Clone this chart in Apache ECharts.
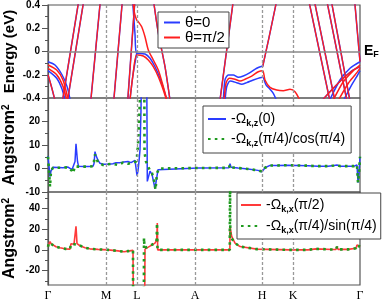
<!DOCTYPE html>
<html><head><meta charset="utf-8">
<script src="https://cdn.jsdelivr.net/npm/echarts@6/dist/echarts.min.js"></script>
<style>html,body{margin:0;padding:0;background:#fff}#c{width:388px;height:301px}</style>
</head><body><div id="c"></div>
<script>
// ---- k-path (distance units along the path) ----
const kTicks = [0, 58, 89, 147, 214, 245, 312];
const kLabels = ['Γ', 'M', 'L', 'A', 'H', 'K', 'Γ'];
const kDashed = [58, 89, 147, 214, 245];

// ---- axis ticks ----
const eMajor = [-0.4, -0.2, 0, 0.2, 0.4];
const eMinor = [-0.3, -0.1, 0.1, 0.3];
const zMajor = [-10, 0, 10, 20, 30];
const zLabels = [-10, 0, 10, 20];
const zMinor = [-5, 5, 15, 25];
const xMajor = [-20, 0, 20, 40];
const xMinor = [-30, -10, 10, 30, 50];

// ---- band structure: [k, E(eV)] ----
// bands common to both θ
const bDeep = [[0,-0.2],[4,-0.32],[7.5,-0.44]];
const bS1 = [[14,-0.45],[31,0.45]];
const bS2 = [[19,-0.45],[36,0.45]];
const bS3 = [[42.5,-0.45],[52.5,0.45]];
const bS4 = [[65.5,-0.45],[74.5,0.45]];
const bS5 = [[79.5,-0.45],[87,0.45]];
const bS6 = [[105.3,0.45],[110.3,0.16],[117,-0.13],[122.5,-0.45]];
const bA = [[171.5,-0.45],[185.5,0.45]];
const bH = [[214.7,-0.13],[221,0.12],[229,0.45]];
const bR1 = [[260.5,0.45],[282.5,-0.45]];
const bR2 = [[266,0.45],[287.5,-0.45]];
const bR3 = [[278.5,0.45],[299.5,-0.45]];
const bR4 = [[283,0.45],[302.5,-0.45]];
const bR5 = [[306.5,0.45],[312,-0.088]];
const bK = [[273,-0.43],[285.3,-0.316],[295.3,-0.23],[305.3,-0.159],[312,-0.131]];
// θ = 0 only
const blG1 = [[0,-0.088],[7,-0.116],[14,-0.2],[19,-0.3],[22.5,-0.43]];
const blG2 = [[0,-0.165],[8.7,-0.23],[13.7,-0.317],[17.5,-0.43]];
const blL1 = [[84.5,0.45],[87,0.15],[88.7,-0.015],[97,-0.021],[102,-0.058],[107,-0.131],[112,-0.23],[117,-0.36],[119,-0.43]];
const blL2 = [[81.5,-0.45],[85,-0.2],[88.7,-0.015]];
const blW1 = [[175.3,-0.43],[177,-0.245],[180.3,-0.202],[185.3,-0.202],[190.3,-0.222],[195.3,-0.211],[202,-0.182],[208.7,-0.144],[214.7,-0.125]];
const blW2 = [[177,-0.43],[178.7,-0.303],[182,-0.254],[188.7,-0.268],[193.7,-0.282],[198.7,-0.268],[205.3,-0.245],[212,-0.225],[214.7,-0.222],[218,-0.288],[222,-0.325],[225.3,-0.36],[229,-0.43]];
const blK1 = [[281,-0.43],[292,-0.245],[302,-0.144],[312,-0.088]];
const blK2 = [[295,-0.43],[303.7,-0.288],[308.7,-0.217],[312,-0.165]];
// θ = π/2 only
const rdG1 = [[0,-0.116],[8.7,-0.159],[15,-0.245],[20.5,-0.43]];
const rdG2 = [[0,-0.145],[8.7,-0.2],[15,-0.3],[19,-0.43]];
const rdL1 = [[84.5,0.45],[86.5,0.33],[88.7,0.27],[90.3,0.256],[93.7,0.213],[97,0.127],[100.3,0.013],[105.3,-0.073],[110.3,-0.159],[115.3,-0.303],[119.3,-0.43]];
const rdL2 = [[81.5,-0.45],[85,-0.2],[88.7,-0.03],[95.3,-0.039],[100.3,-0.073],[105.3,-0.131],[110.3,-0.217],[115.3,-0.331],[119,-0.43]];
const rdW = [[176,-0.43],[178,-0.273],[181.3,-0.23],[187,-0.239],[192,-0.254],[197,-0.239],[203.7,-0.211],[210.3,-0.174],[214.7,-0.165],[217,-0.245],[222,-0.308],[228.7,-0.331],[235.3,-0.337],[242,-0.325],[247,-0.346],[252.5,-0.43]];
const rdK1 = [[284.5,-0.43],[295.3,-0.26],[305.3,-0.165],[312,-0.116]];
const rdK2 = [[289.7,-0.43],[300.3,-0.273],[307,-0.202],[312,-0.145]];

// ---- Berry curvature, z component: [k, value] ----
const omegaZ0 = [[0,5.3],[1,1],[2,-3.5],[3,-1],[5,0.5],[10,0.4],[15,0.3],[20,0.6],[22,1],[24,-0.5],[25.5,-1],[27,3],[28,10.5],[29.5,3],[30.5,1],[35,0.8],[40,0.9],[45,1],[46,2],[47,7.2],[48,5.5],[50,3.5],[52,2.2],[55,1.8],[60,1.8],[65,2],[68,2.5],[70,3],[72,2.5],[76,2.8],[80,3],[83,2.5],[85,2.6],[87,3.5],[88,4],[89,-3],[90,-1],[91,3],[92,8],[93,25],[94,60],[98.5,60],[99.3,-5.5],[102,-1.1],[104,-2.5],[107,-8.6],[110,-0.5],[112,0],[150,0.2],[181,0.3],[182,2],[183,0.5],[190,0.2],[200,-0.2],[210,-0.8],[214,-1.4],[217,0.3],[222,1.3],[230,1.3],[240,1.4],[250,1.3],[260,1.2],[270,1],[280,1],[286,1.3],[289,1.5],[292,1],[300,1],[306,1],[308,1.5],[309,1.5],[310,-6],[311,-2],[312,5]];
const omegaZPi4 = [[0,5],[1,-1],[2,-7.8],[3,-1],[5,0.3],[10,0.3],[20,0.5],[24,-1],[25,-2],[27,1],[28,1],[30,0.8],[40,0.8],[45,1],[46,3],[47,6],[50,2.5],[55,1.5],[60,1.8],[65,2],[70,1.5],[75,2.5],[80,2],[85,2.5],[88,3],[89,5],[90,10],[92,30],[94,60],[96.2,60],[96.5,7],[98,3],[100,1],[102,-1],[104,-2],[106,-5],[107.5,-9],[109,-2],[111,0],[150,0.2],[181,0.3],[182,1.5],[183,0.5],[190,0.2],[200,-0.2],[210,-0.8],[214,-1.3],[217,0.3],[222,1.3],[230,1.3],[240,1.4],[250,1.3],[260,1.2],[270,1],[280,1],[286,1.3],[289,1.5],[292,1],[300,1],[306,1],[308,1.5],[309,1.5],[310,-6],[311,-2],[312,5]];

// ---- Berry curvature, x component ----
const omegaXPi2 = [[0,3],[1,6],[2,8],[3,6],[5,4.5],[8,3],[12,2],[17,1],[22,0.7],[23,6],[26,5.5],[27.5,5],[28,22.7],[29,6],[30,5],[32,4],[37,2],[42,1],[50,0.5],[60,0],[70,-1],[76,-1.8],[80,-1.2],[85,-0.5],[85.5,-80],[96.5,-80],[97,0.7],[100.3,2.6],[107,6.5],[108.7,9.7],[109.3,26],[109.7,0],[115,0],[181.9,0],[182,22.7],[183.7,13],[187,6.5],[192,3.2],[208.7,0.7],[242,0],[260,0],[268,1],[270,0],[285,0.3],[288,0.5],[289,3.2],[290,0.5],[300,0.5],[308,1.5],[309,4.8],[310,3],[312,3]];
const omegaXPi4 = [[0,3],[1,7],[2,8],[3,6],[5,4.5],[8,3],[12,2],[17,1],[22,0.7],[23,5.5],[26,5.5],[28,5],[30,5],[32,4],[37,2],[42,1],[50,0.5],[60,0],[70,-1],[76,-1.8],[80,-1.2],[85,-0.5],[85.2,-80],[95.8,-80],[96,11.6],[96.5,2],[100,3],[107,6.5],[108.7,10],[109,26],[109.5,0],[115,0],[181.8,0],[182,90],[182.3,13],[183.7,12],[187,6.5],[192,3.2],[208.7,0.7],[242,0],[260,0],[268,1],[270,0],[285,0.3],[288,0.5],[289,3],[290,0.5],[300,0.5],[308,1.5],[309,4.5],[310,3],[312,3]];

const bandsBoth = [bDeep,bS1,bS2,bS3,bS4,bS5,bS6,bA,bH,bR1,bR2,bR3,bR4,bR5,bK];
const bandsBlue = [blG1,blG2,blL1,blL2,blW1,blW2,blK1,blK2];
const bandsRed = [rdG1,rdG2,rdL1,rdL2,rdW,rdK1,rdK2];

// ---- styles ----
const SANS = 'Liberation Sans';
const BLUE = '#2a3cff', RED = '#ff1e1e', GREEN = '#1f9a1f', FRAME = '#555';
const names = {
  theta0: 'θ=0', thetaPi2: 'θ=π/2',
  oz0: '-Ω{s|k,z}(0)', ozPi4: '-Ω{s|k,z}(π/4)/cos(π/4)',
  ox: '-Ω{s|k,x}(π/2)', oxPi4: '-Ω{s|k,x}(π/4)/sin(π/4)'
};
const richSub = { s: { fontSize: 9, fontWeight: 'bold', fontFamily: SANS, verticalAlign: 'bottom', lineHeight: 8 } };

const gridTop = [5, 98, 192];
const gridH = [93, 94, 93];
const grid = gridTop.map((t, i) => ({ left: 48, width: 312, top: t, height: gridH[i], outerBoundsMode: 'none', containLabel: false, show: true, borderColor: FRAME, borderWidth: 1.2, backgroundColor: 'rgba(0,0,0,0)' }));

const xAxis = [0, 1, 2].map(i => ({
  type: 'value', gridIndex: i, min: 0, max: 312,
  axisLine: { show: false }, axisTick: { show: false }, splitLine: { show: false },
  axisLabel: i === 2 ? {
    show: true, customValues: kTicks, margin: 5,
    formatter: v => kLabels[kTicks.indexOf(v)],
    fontFamily: 'Liberation Serif', fontSize: 12, color: '#000'
  } : { show: false }
}));

function yPair(i, min, max, major, labels, minor, fmt, name, fs, gap) {
  return [{
    type: 'value', gridIndex: i, min: min, max: max, position: 'left',
    axisLine: { show: true, lineStyle: { color: FRAME, width: 1.2 } },
    axisTick: { show: true, customValues: major, length: 6, lineStyle: { color: FRAME, width: 1 } },
    axisLabel: { show: true, customValues: labels, formatter: fmt, margin: 8, fontFamily: SANS, fontWeight: 'bold', fontSize: 10, color: '#000', showMinLabel: true, showMaxLabel: true },
    splitLine: { show: false },
    name: name, nameLocation: 'middle', nameGap: gap, nameMoveOverlap: false,
    nameTextStyle: { fontFamily: SANS, fontWeight: 'bold', fontSize: fs, color: '#000', lineHeight: 18,
      rich: { sup: { fontFamily: SANS, fontWeight: 'bold', fontSize: 10, verticalAlign: 'top', lineHeight: 10 } } }
  }, {
    type: 'value', gridIndex: i, min: min, max: max, position: 'left',
    axisLine: { show: false },
    axisTick: { show: true, customValues: minor, length: 3, lineStyle: { color: FRAME, width: 1 } },
    axisLabel: { show: false }, splitLine: { show: false }
  }];
}
const yAxis = [].concat(
  yPair(0, -0.4, 0.4, eMajor, eMajor, eMinor, v => (Math.abs(v) < 1e-9 ? '0' : v.toFixed(1)), 'Energy (eV)', 15, 29),
  yPair(1, -10, 30, zMajor, zLabels, zMinor, v => String(v), 'Angstrom{sup|2}', 16, 29),
  yPair(2, -34, 56, xMajor, xMajor, xMinor, v => String(v), 'Angstrom{sup|2}', 16, 29)
);

const dashLine = (extra) => ({
  silent: true, symbol: ['none', 'none'], animation: false,
  label: { show: false },
  lineStyle: { color: '#999', type: [3, 2], width: 1.3 },
  data: kDashed.map(k => ({ xAxis: k })).concat(extra || [])
});

const series = [];
function line(name, data, gi, yi, color, width, type, z) {
  return {
    type: 'line', name: name, data: data, xAxisIndex: gi, yAxisIndex: yi,
    symbol: 'none', showSymbol: false, smooth: 0.25, clip: true, animation: false,
    lineStyle: { color: color, width: width, type: type || 'solid', cap: 'butt' },
    itemStyle: { color: color }, z: z || 2
  };
}
bandsBlue.forEach(b => series.push(line('theta0', b, 0, 0, BLUE, 1.5)));
bandsBoth.forEach(b => series.push(line('theta0', b, 0, 0, BLUE, 1.5)));
bandsBoth.forEach(b => series.push(line('thetaPi2', b, 0, 0, RED, 1.3, 'solid', 3)));
bandsRed.forEach(b => series.push(line('thetaPi2', b, 0, 0, RED, 1.5, 'solid', 3)));
series[0].markLine = dashLine([{
  yAxis: 0, lineStyle: { color: '#888', type: 'solid', width: 1.5 },
  label: { show: true, position: 'end', distance: 4, formatter: '{e|E}{f|F}', color: '#000',
    rich: { e: { fontFamily: SANS, fontWeight: 'bold', fontSize: 14, lineHeight: 16 }, f: { fontFamily: SANS, fontWeight: 'bold', fontSize: 9, verticalAlign: 'bottom', lineHeight: 8 } } }
}]);

const oz0 = line('oz0', omegaZ0, 1, 2, BLUE, 1.5);
oz0.smooth = false;
oz0.markLine = dashLine();
series.push(oz0);
const ozp = line('ozPi4', omegaZPi4, 1, 2, GREEN, 2.6, [2.6, 4.2], 3);
ozp.smooth = false;
series.push(ozp);

const ox = line('ox', omegaXPi2, 2, 4, '#ff3a3a', 1.6);
ox.smooth = false;
ox.markLine = dashLine();
series.push(ox);
const oxp = line('oxPi4', omegaXPi4, 2, 4, GREEN, 2.6, [2.6, 4.2], 3);
oxp.smooth = false;
series.push(oxp);

function legend(data, left, top, lh, gap, pad, iw, fs) {
  return {
    data: data, left: left, top: top, orient: 'vertical', itemGap: gap,
    itemWidth: iw, itemHeight: 10, padding: pad, selectedMode: false,
    backgroundColor: '#fff', borderColor: '#444', borderWidth: 1, borderRadius: 0, z: 10,
    itemStyle: { opacity: 0 },
    formatter: n => names[n],
    textStyle: { fontFamily: SANS, fontSize: fs, color: '#000', lineHeight: lh, rich: richSub }
  };
}

const option = {
  animation: false,
  backgroundColor: '#fff',
  grid: grid, xAxis: xAxis, yAxis: yAxis,
  legend: [
    legend(['theta0', 'thetaPi2'], 158, 12, 13, 0, [3, 4, 3, 5], 16, 15),
    legend(['oz0', 'ozPi4'], 203, 106, 18, 2, [4, 6, 5, 4], 18, 14),
    legend(['ox', 'oxPi4'], 237, 193, 18, 3, [3, 4, 4, 3], 20, 14)
  ],
  series: series
};
const chart = echarts.init(document.getElementById('c'));
chart.setOption(option);
</script></body></html>
